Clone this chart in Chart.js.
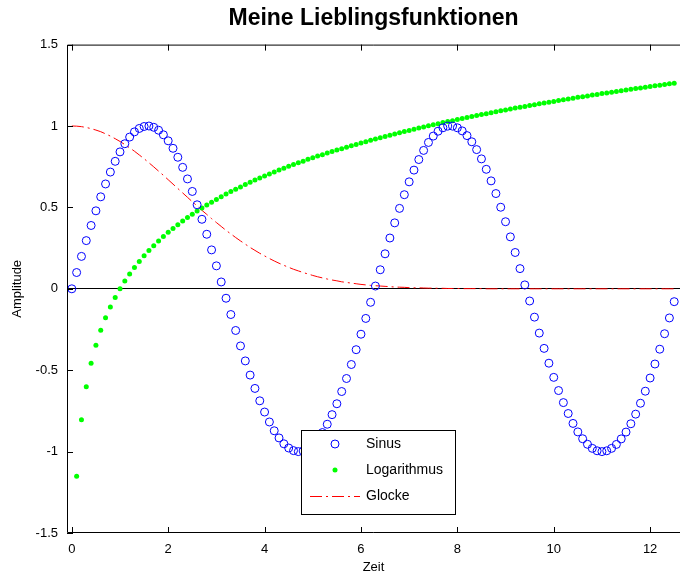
<!DOCTYPE html>
<html lang="de">
<head>
<meta charset="UTF-8">
<title>Meine Lieblingsfunktionen</title>
<script src="https://cdn.jsdelivr.net/npm/chart.js@4"></script>
<style>
  body { margin: 0; background: #fff; }
  #wrap { position: relative; width: 680px; height: 577px; }
</style>
</head>
<body>
<div id="wrap"><canvas id="funcChart"></canvas></div>
<script>
// Zeitachse (gemeinsam fuer alle Kurven)
const xs = [
  0, 0.1, 0.2, 0.3, 0.4, 0.5, 0.6, 0.7, 0.8, 0.9,
  1, 1.1, 1.2, 1.3, 1.4, 1.5, 1.6, 1.7, 1.8, 1.9,
  2, 2.1, 2.2, 2.3, 2.4, 2.5, 2.6, 2.7, 2.8, 2.9,
  3, 3.1, 3.2, 3.3, 3.4, 3.5, 3.6, 3.7, 3.8, 3.9,
  4, 4.1, 4.2, 4.3, 4.4, 4.5, 4.6, 4.7, 4.8, 4.9,
  5, 5.1, 5.2, 5.3, 5.4, 5.5, 5.6, 5.7, 5.8, 5.9,
  6, 6.1, 6.2, 6.3, 6.4, 6.5, 6.6, 6.7, 6.8, 6.9,
  7, 7.1, 7.2, 7.3, 7.4, 7.5, 7.6, 7.7, 7.8, 7.9,
  8, 8.1, 8.2, 8.3, 8.4, 8.5, 8.6, 8.7, 8.8, 8.9,
  9, 9.1, 9.2, 9.3, 9.4, 9.5, 9.6, 9.7, 9.8, 9.9,
  10, 10.1, 10.2, 10.3, 10.4, 10.5, 10.6, 10.7, 10.8, 10.9,
  11, 11.1, 11.2, 11.3, 11.4, 11.5, 11.6, 11.7, 11.8, 11.9,
  12, 12.1, 12.2, 12.3, 12.4, 12.5
];

const sinus = [
  0, 0.100, 0.199, 0.296, 0.389, 0.479, 0.565, 0.644, 0.717, 0.783,
  0.841, 0.891, 0.932, 0.964, 0.985, 0.997, 1.000, 0.992, 0.974, 0.946,
  0.909, 0.863, 0.808, 0.746, 0.675, 0.598, 0.516, 0.427, 0.335, 0.239,
  0.141, 0.042, -0.058, -0.158, -0.256, -0.351, -0.443, -0.530, -0.612, -0.688,
  -0.757, -0.818, -0.872, -0.916, -0.952, -0.978, -0.994, -1.000, -0.996, -0.982,
  -0.959, -0.926, -0.883, -0.832, -0.773, -0.706, -0.631, -0.551, -0.465, -0.374,
  -0.279, -0.182, -0.083, 0.017, 0.117, 0.215, 0.312, 0.405, 0.494, 0.578,
  0.657, 0.729, 0.794, 0.850, 0.899, 0.938, 0.968, 0.989, 0.999, 0.999,
  0.989, 0.970, 0.941, 0.903, 0.855, 0.798, 0.734, 0.663, 0.585, 0.501,
  0.412, 0.319, 0.223, 0.124, 0.024, -0.075, -0.174, -0.272, -0.366, -0.457,
  -0.544, -0.625, -0.699, -0.766, -0.827, -0.879, -0.921, -0.955, -0.980, -0.995,
  -1.000, -0.995, -0.980, -0.956, -0.922, -0.880, -0.829, -0.770, -0.703, -0.629,
  -0.548, -0.462, -0.371, -0.276, -0.179, -0.079
];

// beginnt bei x = 0.1
const logarithmus = [
  -1.151, -0.805, -0.602, -0.458, -0.347, -0.255, -0.178, -0.112, -0.053, 0,
  0.048, 0.091, 0.131, 0.168, 0.203, 0.235, 0.265, 0.294, 0.321, 0.347,
  0.371, 0.394, 0.416, 0.438, 0.458, 0.478, 0.497, 0.515, 0.532, 0.549,
  0.566, 0.582, 0.597, 0.612, 0.626, 0.640, 0.654, 0.668, 0.680, 0.693,
  0.705, 0.718, 0.729, 0.741, 0.752, 0.763, 0.774, 0.784, 0.795, 0.805,
  0.815, 0.824, 0.834, 0.843, 0.852, 0.861, 0.870, 0.879, 0.887, 0.896,
  0.904, 0.912, 0.920, 0.928, 0.936, 0.943, 0.951, 0.958, 0.966, 0.973,
  0.980, 0.987, 0.994, 1.001, 1.007, 1.014, 1.021, 1.027, 1.033, 1.040,
  1.046, 1.052, 1.058, 1.064, 1.070, 1.076, 1.082, 1.087, 1.093, 1.099,
  1.104, 1.110, 1.115, 1.120, 1.126, 1.131, 1.136, 1.141, 1.146, 1.151,
  1.156, 1.161, 1.166, 1.171, 1.176, 1.180, 1.185, 1.190, 1.194, 1.199,
  1.203, 1.208, 1.212, 1.217, 1.221, 1.225, 1.230, 1.234, 1.238, 1.242,
  1.247, 1.251, 1.255, 1.259, 1.263
];

const glocke = [
  1, 0.999, 0.996, 0.991, 0.984, 0.975, 0.965, 0.952, 0.938, 0.922,
  0.905, 0.886, 0.866, 0.845, 0.822, 0.799, 0.774, 0.749, 0.723, 0.697,
  0.670, 0.643, 0.616, 0.589, 0.562, 0.535, 0.509, 0.482, 0.457, 0.431,
  0.407, 0.383, 0.359, 0.337, 0.315, 0.294, 0.274, 0.254, 0.236, 0.218,
  0.202, 0.186, 0.171, 0.157, 0.144, 0.132, 0.120, 0.110, 0.100, 0.091,
  0.082, 0.074, 0.067, 0.060, 0.054, 0.049, 0.043, 0.039, 0.035, 0.031,
  0.027, 0.024, 0.021, 0.019, 0.017, 0.015, 0.013, 0.011, 0.010, 0.009,
  0.007, 0.006, 0.006, 0.005, 0.004, 0.004, 0.003, 0.003, 0.002, 0.002,
  0.002, 0.001, 0.001, 0.001, 0.001, 0.001, 0, 0, 0, 0,
  0, 0, 0, 0, 0, 0, 0, 0, 0, 0,
  0, 0, 0, 0, 0, 0, 0, 0, 0, 0,
  0, 0, 0, 0, 0, 0, 0, 0, 0, 0,
  0, 0, 0, 0, 0, 0
];

const xTicks = [0, 2, 4, 6, 8, 10, 12];
const yTicks = [-1.5, -1, -0.5, 0, 0.5, 1, 1.5];

const FONT = '"Liberation Sans", Arial, sans-serif';

// Rahmen + nach innen zeigende Ticks (wie in Matlab)
const matlabAxes = {
    id: 'matlabAxes',
    afterDatasetsDraw(chart) {
        const { ctx, chartArea: a, scales: { x, y } } = chart;
        const tl = 6;
        ctx.save();
        ctx.strokeStyle = '#000';
        ctx.lineWidth = 1;
        ctx.beginPath();
        ctx.moveTo(a.right, a.top + 0.5);
        ctx.lineTo(a.left + 0.5, a.top + 0.5);
        ctx.lineTo(a.left + 0.5, a.bottom - 0.5);
        ctx.lineTo(a.right, a.bottom - 0.5);
        xTicks.forEach(v => {
            const px = Math.round(x.getPixelForValue(v)) + 0.5;
            ctx.moveTo(px, a.bottom);
            ctx.lineTo(px, a.bottom - tl);
            ctx.moveTo(px, a.top);
            ctx.lineTo(px, a.top + tl);
        });
        yTicks.forEach(v => {
            const py = Math.round(y.getPixelForValue(v)) + 0.5;
            ctx.moveTo(a.left, py);
            ctx.lineTo(a.left + tl, py);
        });
        ctx.stroke();
        ctx.restore();
    },
    // Legende im Plot, unten mittig
    afterDraw(chart) {
        const ctx = chart.ctx;
        const ds = chart.data.datasets;
        const box = { x: 301.5, y: 430.5, w: 154, h: 84 };
        const rows = [444, 470, 496];
        ctx.save();
        ctx.fillStyle = '#fff';
        ctx.fillRect(box.x, box.y, box.w, box.h);
        ctx.strokeStyle = '#000';
        ctx.lineWidth = 1;
        ctx.strokeRect(box.x, box.y, box.w, box.h);
        ctx.font = '14px ' + FONT;
        ctx.textBaseline = 'middle';
        ds.forEach((d, i) => {
            const yy = rows[i];
            if (d.showLine === false) {
                ctx.beginPath();
                ctx.arc(335, yy, d.pointRadius, 0, Math.PI * 2);
                if (d.pointBackgroundColor !== 'transparent') {
                    ctx.fillStyle = d.pointBackgroundColor;
                    ctx.fill();
                }
                if (d.pointBorderWidth > 0) {
                    ctx.strokeStyle = d.pointBorderColor;
                    ctx.lineWidth = d.pointBorderWidth;
                    ctx.stroke();
                }
            } else {
                ctx.beginPath();
                ctx.setLineDash(d.borderDash);
                ctx.strokeStyle = d.borderColor;
                ctx.lineWidth = d.borderWidth;
                ctx.moveTo(310, yy + 0.5);
                ctx.lineTo(360, yy + 0.5);
                ctx.stroke();
                ctx.setLineDash([]);
            }
            ctx.fillStyle = '#000';
            ctx.fillText(d.label, 366, yy);
        });
        ctx.restore();
    }
};

const ctx = document.getElementById('funcChart').getContext('2d');
new Chart(ctx, {
    type: 'line',
    data: {
        datasets: [
            {
                label: 'Sinus',
                data: sinus.map((v, i) => ({ x: xs[i], y: v })),
                showLine: false,
                pointStyle: 'circle',
                pointRadius: 4,
                pointBackgroundColor: 'transparent',
                pointBorderColor: '#0000ff',
                pointBorderWidth: 1
            },
            {
                label: 'Logarithmus',
                data: logarithmus.map((v, i) => ({ x: xs[i + 1], y: v })),
                showLine: false,
                pointStyle: 'circle',
                pointRadius: 2.5,
                pointBackgroundColor: '#00ff00',
                pointBorderColor: '#00ff00',
                pointBorderWidth: 0
            },
            {
                label: 'Glocke',
                data: glocke.map((v, i) => ({ x: xs[i], y: v })),
                borderColor: '#ff0000',
                borderWidth: 1,
                borderDash: [12, 4, 2, 4],
                pointRadius: 0,
                fill: false,
                tension: 0
            }
        ]
    },
    options: {
        animation: false,
        responsive: true,
        maintainAspectRatio: false,
        layout: { padding: 0, autoPadding: false },
        scales: {
            x: {
                type: 'linear',
                min: -0.1,
                max: 12.62,
                afterBuildTicks: s => { s.ticks = xTicks.map(v => ({ value: v })); },
                afterFit: s => { s.height = 44; },
                grid: { display: false, drawTicks: false },
                border: { display: false },
                ticks: {
                    autoSkip: false,
                    maxRotation: 0,
                    padding: 9,
                    color: '#000',
                    font: { family: FONT, size: 13 },
                    callback: v => String(v)
                },
                title: {
                    display: true,
                    text: 'Zeit',
                    color: '#000',
                    font: { family: FONT, size: 13 },
                    padding: { top: 0, bottom: 2 }
                }
            },
            y: {
                type: 'linear',
                min: -1.5,
                max: 1.5,
                afterBuildTicks: s => { s.ticks = yTicks.map(v => ({ value: v })); },
                afterFit: s => { s.width = 67; },
                grid: {
                    drawTicks: false,
                    color: c => (c.tick && c.tick.value === 0) ? '#000' : 'rgba(0,0,0,0)',
                    lineWidth: 1
                },
                border: { display: false },
                ticks: {
                    padding: 9,
                    color: '#000',
                    font: { family: FONT, size: 13 },
                    callback: v => String(v)
                },
                title: {
                    display: true,
                    text: 'Amplitude',
                    color: '#000',
                    font: { family: FONT, size: 13 },
                    padding: { top: 10, bottom: 0 }
                }
            }
        },
        plugins: {
            legend: { display: false },
            tooltip: { enabled: false },
            title: {
                display: true,
                fullSize: false,
                text: 'Meine Lieblingsfunktionen',
                color: '#000',
                font: { family: FONT, size: 23, weight: 'bold', lineHeight: 1.2 },
                padding: { top: 5, bottom: 12 }
            }
        }
    },
    plugins: [matlabAxes]
});
</script>
</body>
</html>
